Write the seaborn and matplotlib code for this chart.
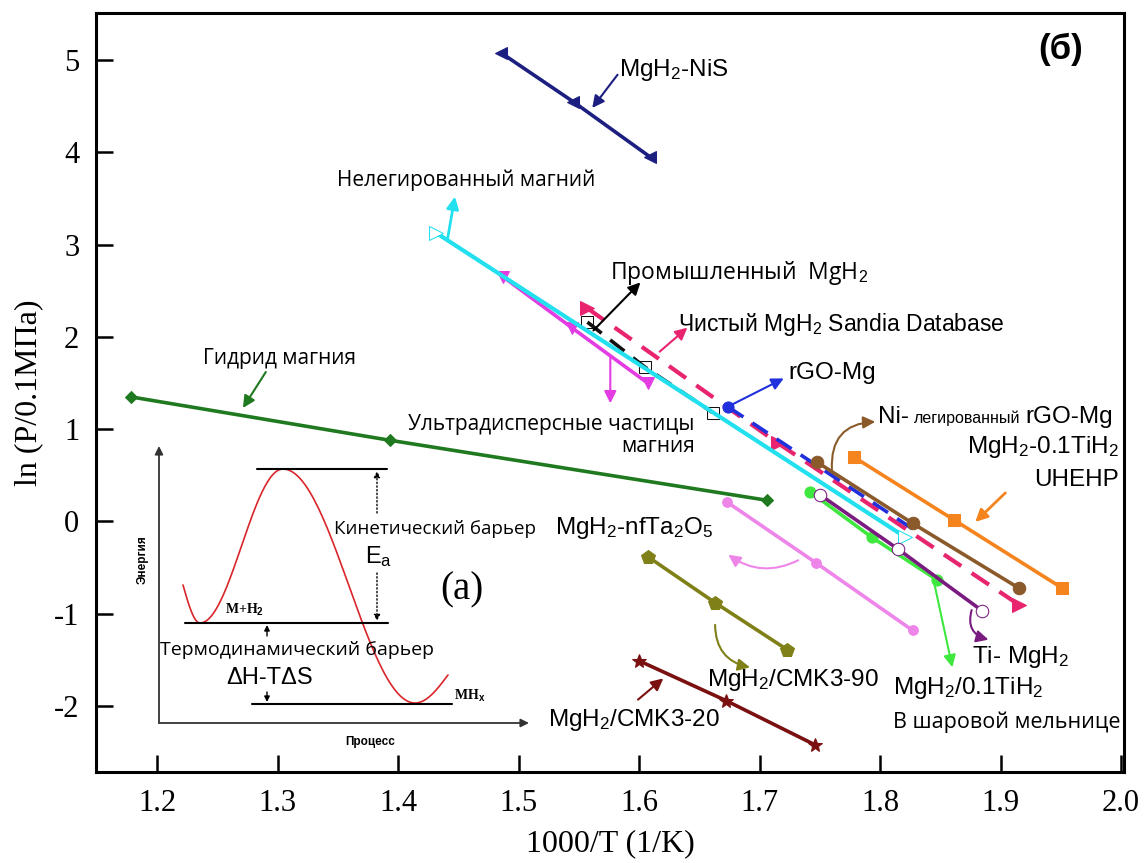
import numpy as np
import pandas as pd
import matplotlib
matplotlib.use("Agg")
import matplotlib.pyplot as plt
import seaborn as sns

# ---------------- data (1000/T, ln P) ----------------
nis_x = [1.485, 1.545, 1.609]; nis_y = [5.08, 4.55, 3.95]
undoped_x = [1.431, 1.821]; undoped_y = [3.13, -0.17]
ultra_x = [1.487, 1.544, 1.607]; ultra_y = [2.65, 2.10, 1.50]
comm_x = [1.557, 1.605, 1.661]; comm_y = [2.16, 1.67, 1.18]
sandia_x = [1.557, 1.715, 1.915]; sandia_y = [2.31, 0.85, -0.90]
rgo_x = [1.674, 1.827]; rgo_y = [1.24, -0.08]
nirgo_x = [1.748, 1.827, 1.915]; nirgo_y = [0.64, -0.02, -0.72]
uhehp_x = [1.778, 1.861, 1.951]; uhehp_y = [0.70, 0.02, -0.72]
ti_x = [1.750, 1.815, 1.885]; ti_y = [0.29, -0.30, -0.97]
bm_x = [1.742, 1.793, 1.847]; bm_y = [0.32, -0.17, -0.63]
ta_x = [1.673, 1.747, 1.827]; ta_y = [0.21, -0.45, -1.18]
cmk90_x = [1.607, 1.663, 1.723]; cmk90_y = [-0.38, -0.88, -1.39]
cmk20_x = [1.600, 1.672, 1.746]; cmk20_y = [-1.51, -1.94, -2.42]
hyd_x = [1.178, 1.393, 1.706]; hyd_y = [1.35, 0.88, 0.23]

x_ticks = [1.2, 1.3, 1.4, 1.5, 1.6, 1.7, 1.8, 1.9, 2.0]
x_tick_labels = ["1.2", "1.3", "1.4", "1.5", "1.6", "1.7", "1.8", "1.9", "2.0"]
y_ticks = [-2, -1, 0, 1, 2, 3, 4, 5]
y_tick_labels = ["-2", "-1", "0", "1", "2", "3", "4", "5"]

# schematic energy profile key points (inset, pixel units)
energy_pts = [(183, 585), (200, 623), (283, 469), (415, 703), (448, 675)]

sns.set_theme(style="white")
plt.rcParams["font.family"] = ["Liberation Sans", "DejaVu Sans"]
plt.rcParams["mathtext.fontset"] = "custom"
plt.rcParams["mathtext.rm"] = "Liberation Sans"
plt.rcParams["mathtext.it"] = "Liberation Sans:italic"
plt.rcParams["mathtext.bf"] = "Liberation Sans:bold"
plt.rcParams["text.color"] = "black"
plt.rcParams["axes.labelcolor"] = "black"
plt.rcParams["xtick.color"] = "black"
plt.rcParams["ytick.color"] = "black"

W, H = 1147, 863
fig = plt.figure(figsize=(W / 100, H / 100), dpi=100)
fig.patch.set_facecolor("white")

def frac(px0, py0, px1, py1):
    return [px0 / W, 1 - py1 / H, (px1 - px0) / W, (py1 - py0) / H]

ax = fig.add_axes(frac(96, 13, 1124, 772))
ax.set_xlim(1.149, 2.0025)
ax.set_ylim(-2.714, 5.509)

def series(x, y, color, marker, ms=8, lw=2.6, mfc=None, markevery=None, dashes=None, z=3):
    kw = dict(color=color, marker=marker, markersize=ms, linewidth=lw,
              markeredgecolor=color, markerfacecolor=mfc if mfc else color, zorder=z)
    if markevery is not None:
        kw["markevery"] = markevery
    sns.lineplot(x=x, y=y, ax=ax, sort=False, estimator=None, **kw)
    l = ax.lines[-1]
    if dashes:
        l.set_dashes(dashes)
    return l

series(nis_x, nis_y, "#1c1f80", "<", ms=9)
series(hyd_x, hyd_y, "#1f7a1f", "D", ms=6)
series(ultra_x, ultra_y, "#e23ce2", "v", ms=8)
series(comm_x, comm_y, "#111111", "s", ms=8, mfc="none", dashes=(5, 3), lw=2.6)
series(sandia_x, sandia_y, "#e8246f", ">", ms=10, dashes=(5, 3), lw=3.0)
series(rgo_x, rgo_y, "#2030dd", "o", ms=8, markevery=[0], dashes=(5, 3), lw=2.6)
series(undoped_x, undoped_y, "#22e0ee", ">", ms=10, mfc="white", markevery=[0, 1], lw=3.0, z=4)
series(nirgo_x, nirgo_y, "#8b5a2b", "o", ms=9)
series(uhehp_x, uhehp_y, "#f5841f", "s", ms=8)
series(bm_x, bm_y, "#3ee83e", "o", ms=8)
series(ti_x, ti_y, "#7a1b80", "o", ms=9, mfc="white", z=4)
series(ta_x, ta_y, "#ee86ea", "o", ms=7)
series(cmk90_x, cmk90_y, "#808018", "p", ms=10)
series(cmk20_x, cmk20_y, "#7a1010", "*", ms=10)

# ---------------- axes styling ----------------
ax.set_xticks(x_ticks)
ax.set_xticklabels(x_tick_labels)
ax.set_yticks(y_ticks)
ax.set_yticklabels(y_tick_labels)
serif = ["Liberation Serif", "DejaVu Serif"]
for lab in ax.get_xticklabels() + ax.get_yticklabels():
    lab.set_fontfamily(serif)
    lab.set_fontsize(22)
    lab.set_color("black")
ax.tick_params(axis="both", direction="in", length=12, width=1.8, pad=12,
               bottom=True, left=True, top=False, right=False, colors="black")
for s in ax.spines.values():
    s.set_linewidth(2.2)
    s.set_color("black")
ax.set_xlabel("1000/T (1/K)", fontsize=23, family=serif, labelpad=8, color="black")
ax.set_ylabel("ln (P/0.1МПа)", fontsize=23, family=serif, labelpad=8, color="black")
ax.grid(False)

# ---------------- annotations ----------------
def arrow(tail, head, color, lw=1.5, ms=18, rad=0.0, style="-|>"):
    ax.annotate("", xy=head, xytext=tail,
                arrowprops=dict(arrowstyle=style, color=color, lw=lw, mutation_scale=ms,
                                shrinkA=0, shrinkB=0,
                                connectionstyle=f"arc3,rad={rad}"), zorder=6)

osans = ["Open Sans", "DejaVu Sans"]
fs_f = 17.5

ax.text(1.583, 4.89, "MgH$_2$-NiS", fontsize=fs_f, va="center", ha="left")
arrow((1.582, 4.84), (1.561, 4.48), "#1c1f80")

ax.text(1.456, 3.70, "Нелегированный магний", fontsize=15, va="center", ha="center", family=osans)
arrow((1.441, 3.07), (1.447, 3.52), "#22e0ee", lw=2)

ax.text(1.576, 2.69, "Промышленный  MgH$_2$", fontsize=16.5, va="center", ha="left", family=osans)
arrow((1.562, 2.07), (1.601, 2.59), "black")

ax.text(1.632, 2.13, "Чистый MgH$_2$ Sandia Database", fontsize=16.5, va="center", ha="left")
arrow((1.617, 1.84), (1.640, 2.10), "#e8246f")

ax.text(1.724, 1.61, "rGO-Mg", fontsize=fs_f, va="center", ha="left")
arrow((1.676, 1.26), (1.720, 1.55), "#2030dd")

ax.text(1.646, 1.05, "Ультрадисперсные частицы", fontsize=15, va="center", ha="right", family=osans)
ax.text(1.616, 0.81, "магния", fontsize=15, va="center", ha="center", family=osans)
arrow((1.576, 1.78), (1.576, 1.28), "#e23ce2")

ax.text(1.301, 1.77, "Гидрид магния", fontsize=15, va="center", ha="center", family=osans)
arrow((1.290, 1.62), (1.271, 1.23), "#1f7a1f")

ax.text(1.798, 1.07, "Ni-", fontsize=fs_f, va="baseline", ha="left")
ax.text(1.872, 1.07, "легированный", fontsize=11.5, va="baseline", ha="center")
ax.text(1.993, 1.07, "rGO-Mg", fontsize=fs_f, va="baseline", ha="right")
arrow((1.760, 0.56), (1.796, 1.08), "#8b5a2b", rad=-0.5)

ax.text(1.998, 0.81, "MgH$_2$-0.1TiH$_2$", fontsize=fs_f, va="center", ha="right")
ax.text(1.998, 0.45, "UHEHP", fontsize=fs_f, va="center", ha="right")
arrow((1.904, 0.31), (1.879, -0.005), "#f5841f", lw=2)

ax.text(1.530, -0.07, "MgH$_2$-nfTa$_2$O$_5$", fontsize=fs_f, va="center", ha="left")
arrow((1.732, -0.42), (1.674, -0.36), "#ee86ea", rad=-0.3)

ax.text(1.656, -1.72, "MgH$_2$/CMK3-90", fontsize=fs_f, va="center", ha="left")
arrow((1.663, -1.12), (1.692, -1.58), "#808018", rad=0.4)

ax.text(1.524, -2.15, "MgH$_2$/CMK3-20", fontsize=fs_f, va="center", ha="left")
arrow((1.599, -1.93), (1.620, -1.70), "#7a1010")

ax.text(1.876, -1.47, "Ti- MgH$_2$", fontsize=fs_f, va="center", ha="left")
arrow((1.876, -0.96), (1.890, -1.28), "#7a1b80", rad=0.5)

ax.text(1.811, -1.80, "MgH$_2$/0.1TiH$_2$", fontsize=fs_f, va="center", ha="left")
ax.text(1.811, -2.17, "В шаровой мельнице", fontsize=15.5, va="center", ha="left", family=osans)
arrow((1.844, -0.61), (1.860, -1.58), "#3ee83e")

ax.text(1.950, 5.11, "(б)", fontsize=25, fontweight="bold", va="center", ha="center", color="black")

# ---------------- inset (a): energy schematic ----------------
ai = fig.add_axes(frac(130, 440, 545, 750))
ai.set_xlim(130, 545)
ai.set_ylim(750, 440)
ai.axis("off")
ai.patch.set_alpha(0)

def iarrow(tail, head, color="black", lw=1.3, ms=12, ls="-"):
    ai.annotate("", xy=head, xytext=tail,
                arrowprops=dict(arrowstyle="-|>", color=color, lw=lw, mutation_scale=ms,
                                shrinkA=0, shrinkB=0, linestyle=ls))

iarrow((159, 723), (159, 446), color="#333333")
iarrow((159, 723), (529, 723), color="#333333")

xs, ys = [], []
n = len(energy_pts)
for i in range(n - 1):
    (xa, ya), (xb, yb) = energy_pts[i], energy_pts[i + 1]
    t = np.linspace(0, 1, 60)
    if i == 0:
        e = np.sin(np.pi / 2 * t)
    elif i == n - 2:
        e = 1 - np.cos(np.pi / 2 * t)
    else:
        e = (1 - np.cos(np.pi * t)) / 2
    xs.extend(xa + (xb - xa) * t)
    ys.extend(ya + (yb - ya) * e)
ai.plot(xs, ys, color="#d9262b", lw=1.2)

ai.plot([257, 387], [469, 469], color="black", lw=1.5)
ai.plot([185, 388], [623, 623], color="black", lw=1.5)
ai.plot([252, 452], [704, 704], color="black", lw=1.5)

iarrow((377, 513), (377, 471), ms=9, lw=1, ls=":")
iarrow((377, 573), (377, 621), ms=9, lw=1, ls=":")
iarrow((267, 636), (267, 625), ms=8, lw=1)
iarrow((267, 692), (267, 702), ms=8, lw=1)

ai.text(143, 560, "Энергия", rotation=90, fontsize=8.5, fontweight="bold", ha="center", va="center")
ai.text(370, 742, "Процесс", fontsize=8.5, fontweight="bold", ha="center", va="center")
ai.text(435, 529, "Кинетический барьер", fontsize=13.5, ha="center", va="center", family=osans)
ai.text(379, 557, r"E$_\mathrm{a}$", fontsize=17, ha="center", va="center")
ai.text(462, 590, "(a)", fontsize=28, ha="center", va="center", family=serif)
ai.text(245, 610, r"M+H$_\mathbf{2}$", fontsize=10, fontweight="bold", ha="center", va="center", family=serif)
ai.text(470, 696, r"MH$_\mathbf{x}$", fontsize=10, fontweight="bold", ha="center", va="center", family=serif)
ai.text(297, 650, "Термодинамический барьер", fontsize=14, ha="center", va="center", family=osans)
ai.text(270, 678, "ΔH-TΔS", fontsize=17, ha="center", va="center")

fig.savefig("out.png", dpi=100, facecolor="white")
